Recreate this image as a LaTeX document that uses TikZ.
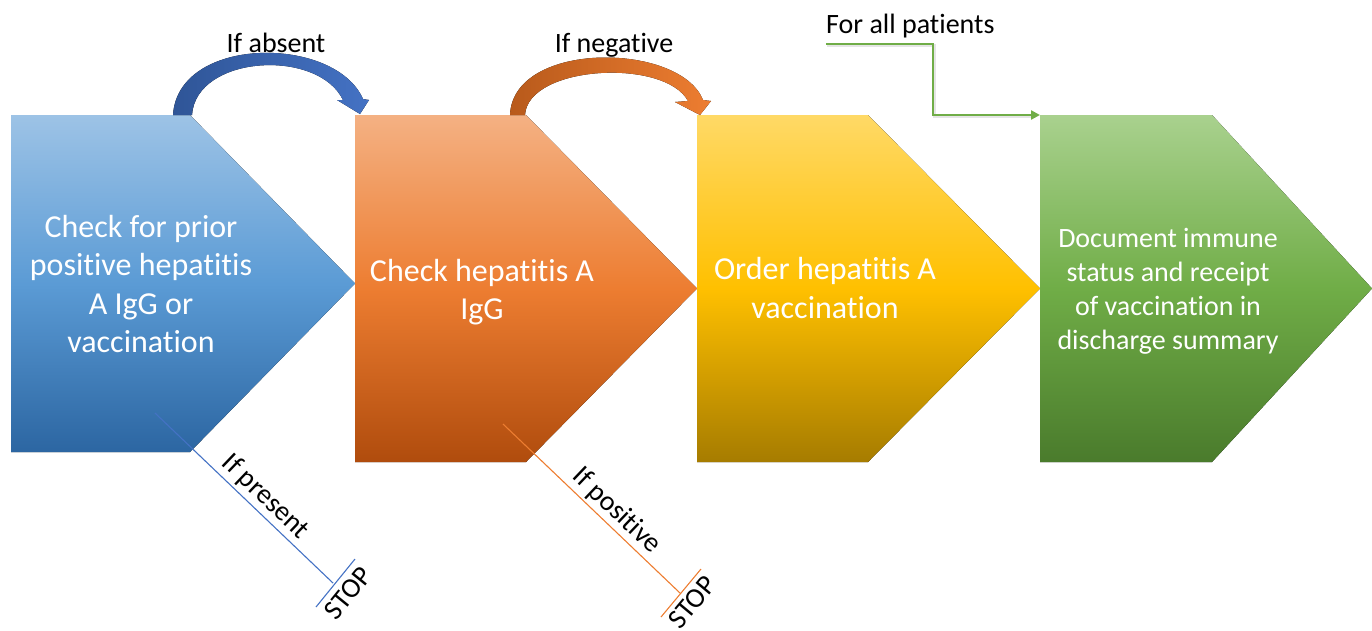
\documentclass[tikz,border=0pt]{standalone}
\usepackage{fontspec}
\setmainfont{Carlito}[Ligatures=NoCommon]
\usetikzlibrary{arrows.meta,calc}
\definecolor{bTop}{HTML}{9DC3E6}\definecolor{bMid}{HTML}{5B9BD5}\definecolor{bBot}{HTML}{2C66A2}
\definecolor{oTop}{HTML}{F4B183}\definecolor{oMid}{HTML}{ED7D31}\definecolor{oBot}{HTML}{B04C0D}
\definecolor{yTop}{HTML}{FFD966}\definecolor{yMid}{HTML}{FFC000}\definecolor{yBot}{HTML}{A67C00}
\definecolor{gTop}{HTML}{A9D18E}\definecolor{gMid}{HTML}{70AD47}\definecolor{gBot}{HTML}{4A7B2C}
\definecolor{bDark}{HTML}{2F5597}\definecolor{bLight}{HTML}{4472C4}
\definecolor{oDark}{HTML}{B85A1B}\definecolor{oLight}{HTML}{ED7D31}
\definecolor{gLine}{HTML}{70AD47}
\begin{document}
\begin{tikzpicture}[x=1pt,y=-1pt,
  boxtext/.style={text=white, align=center, inner sep=0pt, font=\fontsize{32}{38.4}\selectfont},
  lbl/.style={inner sep=0pt, font=\fontsize{28}{33.6}\selectfont},
  stopline/.style={line width=1.1pt},
  greenline/.style={draw=gLine, line width=2.4pt, -{Triangle[length=9pt,width=9pt]}},
  shadowline/.style={draw=black, opacity=0.10, line width=3.4pt}]
\useasboundingbox (0,0) rectangle (1372,630);

% chevron shapes
\fill[top color=bTop, bottom color=bBot, middle color=bMid]
  (11,115) coordinate (b-nw) -- (190,115) coordinate (b-ne) -- (355,283.5) coordinate (b-tip) -- (190,452) -- (11,452) -- cycle;
\fill[top color=oTop, bottom color=oBot, middle color=oMid]
  (355,115) coordinate (o-nw) -- (526,115) coordinate (o-ne) -- (697,288.5) coordinate (o-tip) -- (526,462) -- (355,462) -- cycle;
\fill[top color=yTop, bottom color=yBot, middle color=yMid]
  (697,115) coordinate (y-nw) -- (868,115) coordinate (y-ne) -- (1040,288.5) coordinate (y-tip) -- (868,462) -- (697,462) -- cycle;
\fill[top color=gTop, bottom color=gBot, middle color=gMid]
  (1040,115) coordinate (g-nw) -- (1212,115) coordinate (g-ne) -- (1372,288.5) coordinate (g-tip) -- (1212,462) -- (1040,462) -- cycle;

% box texts
\node[boxtext] (t1) at (141,284) {Check for prior\\positive hepatitis\\A IgG or\\vaccination};
\node[boxtext] (t2) at (482,292) {Check hepatitis A\\IgG};
\node[boxtext] (t3) at (825,288) {Order hepatitis A\\vaccination};
\node[boxtext, font=\fontsize{28}{34}\selectfont] (t4) at (1168,291) {Document immune\\status and receipt\\of vaccination in\\discharge summary};

% curved arrows
\fill[left color=bDark, right color=bLight]
  (173,115) -- (192,115) .. controls (196,55) and (318,48) .. (343,100)
  -- (337,100) -- (360,114) -- (369,100) -- (363,99)
  .. controls (335,35) and (178,35) .. (173,115) -- cycle;
\fill[left color=oDark, right color=oLight]
  (510,115) -- (525,115) .. controls (528,65) and (665,58) .. (688,101)
  -- (675,102) -- (700,115) -- (711,101) -- (703,100)
  .. controls (680,42) and (513,40) .. (510,115) -- cycle;

% labels
\node[lbl, anchor=base] (la) at (276,52) {If absent};
\node[lbl, anchor=base] (ln) at (614,52) {If negative};
\node[lbl, anchor=base west] (lf) at (826,33) {For all patients};

% green connector
\coordinate (gs) at (826,44);
\coordinate (gk) at (933,44);
\coordinate (gsh) at (827,45.5);
\draw[shadowline] (gsh) -- ++(107.5,0) |- ($(g-nw)+(-6,1.5)$);
\draw[greenline] (gs) -- (gk) |- (g-nw);

% stop lines
\coordinate (s1a) at (155,413);
\coordinate (s1b) at (333,583);
\coordinate (s1l) at (316,607);
\coordinate (s1r) at (355,559);
\draw[stopline, draw=bLight] (s1a) -- node[sloped, above, pos=0.56, lbl, inner sep=3pt] (ip) {If present} (s1b);
\draw[stopline, draw=bLight] (s1l) -- node[sloped, below, lbl, inner sep=6pt] (st1) {STOP} (s1r);

\coordinate (s2a) at (503,424);
\coordinate (s2b) at (680,593);
\coordinate (s2l) at (661,617);
\coordinate (s2r) at (701,569);
\draw[stopline, draw=oLight] (s2a) -- node[sloped, above, pos=0.58, lbl, inner sep=3pt] (ipos) {If positive} (s2b);
\draw[stopline, draw=oLight] (s2l) -- node[sloped, below, lbl, inner sep=5pt] (st2) {STOP} (s2r);
\end{tikzpicture}
\end{document}
